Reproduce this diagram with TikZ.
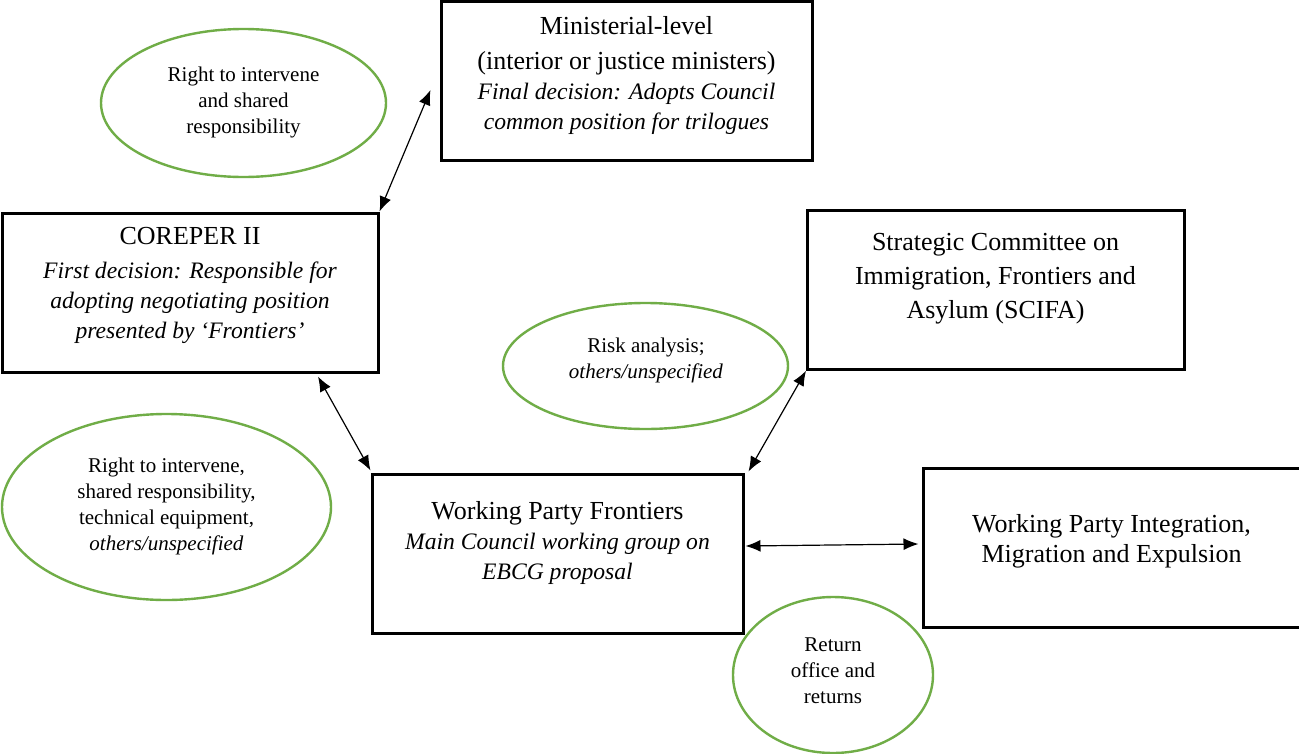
\documentclass[tikz,border=0pt]{standalone}
\usepackage{fontspec}
\setmainfont{Liberation Serif}
\usetikzlibrary{arrows.meta,shapes.geometric}
\definecolor{ogreen}{HTML}{70AD47}
\newcommand\myital[1]{{\fontsize{23.6}{30}\selectfont\itshape #1}}
\begin{document}
\begin{tikzpicture}[x=1pt,y=-1pt,
  boxs/.style={draw=black,line width=3pt,rectangle,inner sep=0pt},
  ovals/.style={draw=ogreen,line width=2.4pt,ellipse,inner sep=0pt},
  btext/.style={align=center,font=\fontsize{26}{30}\selectfont,inner sep=0pt},
  otext/.style={align=center,font=\fontsize{21}{26}\selectfont,inner sep=0pt},
  link/.style={line width=1.2pt,{Latex[length=15pt,width=12pt]}-{Latex[length=15pt,width=12pt]}}]
\useasboundingbox[fill=white] (0,0) rectangle (1299,753);

% boxes
\node[boxs,minimum width=371pt,minimum height=159pt] (min) at (626.5,80.5) {};
\node[boxs,minimum width=376pt,minimum height=159pt] (cor) at (190,292.5) {};
\node[boxs,minimum width=376.5pt,minimum height=158.5pt] (sci) at (995.75,290) {};
\node[boxs,minimum width=371pt,minimum height=159pt] (wpf) at (557.5,553.5) {};
\node[boxs,minimum width=377pt,minimum height=159pt] (wpi) at (1111.5,547.5) {};

% box texts
\node[btext] (mint) at (626.5,75) {Ministerial-level\\[5pt](interior or justice ministers)\\\myital{Final decision: Adopts Council}\\\myital{common position for trilogues}};
\node[btext] (cort) at (190,285) {COREPER II\\[4pt]\myital{First decision: Responsible for}\\\myital{adopting negotiating position}\\\myital{presented by ‘Frontiers’}};
\node[btext,font=\fontsize{26}{34}\selectfont] (scit) at (995.5,279) {Strategic Committee on\\Immigration, Frontiers and\\Asylum (SCIFA)};
\node[btext] (wpft) at (557.5,543) {Working Party Frontiers\\\myital{Main Council working group on}\\\myital{EBCG proposal}};
\node[btext,font=\fontsize{26}{30}\selectfont] (wpit) at (1111.5,541) {Working Party Integration,\\Migration and Expulsion};

% ovals
\node[ovals,minimum width=285pt,minimum height=148pt] (e1) at (243.5,103) {};
\node[ovals,minimum width=285pt,minimum height=126pt] (e2) at (645.5,366) {};
\node[ovals,minimum width=329pt,minimum height=186pt] (e3) at (166.5,507) {};
\node[ovals,minimum width=200pt,minimum height=156pt] (e4) at (833,675) {};

\node[otext] (e1t) at (243.5,102) {Right to intervene\\and shared\\responsibility};
\node[otext] (e2t) at (646,360) {Risk analysis;\\\textit{others/unspecified}};
\node[otext] (e3t) at (166.5,506) {Right to intervene,\\shared responsibility,\\technical equipment,\\\textit{others/unspecified}};
\node[otext] (e4t) at (833,671) {Return\\office and\\returns};

% connectors
\draw[link] (cor.north east) -- ([xshift=-9pt,yshift=-9.5pt]min.west);
\draw[link] ([xshift=128pt,yshift=-3pt]cor.south) -- ([yshift=2pt]wpf.north west);
\draw[link] (sci.south west) -- ([xshift=4pt,yshift=1pt]wpf.north east);
\draw[link] ([xshift=1pt,yshift=7.5pt]wpf.east) -- ([xshift=-3pt,yshift=3.5pt]wpi.west);
\end{tikzpicture}
\end{document}
